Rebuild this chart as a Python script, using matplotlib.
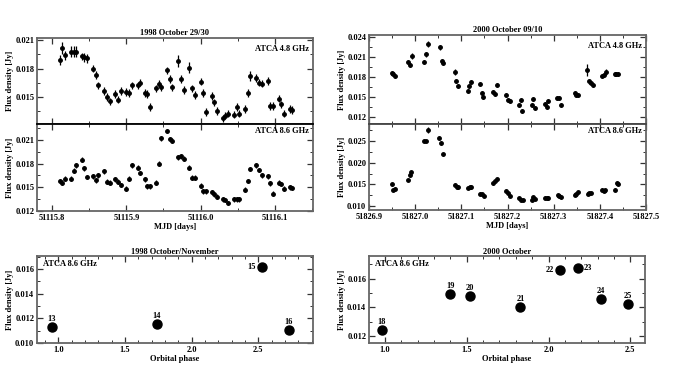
import numpy as np
import matplotlib
matplotlib.use('Agg')
import matplotlib.pyplot as plt
from matplotlib.ticker import MultipleLocator, FormatStrFormatter

plt.rcParams['font.family'] = ['Liberation Serif', 'DejaVu Serif']
plt.rcParams['font.weight'] = 'bold'
plt.rcParams['font.size'] = 6

# 1998 October 29/30 light curves (MJD)
mjd_98 = [51115.8103, 51115.8139, 51115.8174, 51115.8255, 51115.8291, 51115.8326,
          51115.8402, 51115.8434, 51115.8474, 51115.8559, 51115.8590, 51115.8626,
          51115.8706, 51115.8738, 51115.8778, 51115.8854, 51115.8890, 51115.8925,
          51115.9001, 51115.9037, 51115.9077, 51115.9153, 51115.9185, 51115.9247,
          51115.9283, 51115.9319, 51115.9395, 51115.9435, 51115.9471, 51115.9547,
          51115.9587, 51115.9618, 51115.9699, 51115.9734, 51115.9770, 51115.9846,
          51115.9886, 51115.9922, 51115.9998, 51116.0038, 51116.0070, 51116.0150,
          51116.0182, 51116.0222, 51116.0302, 51116.0333, 51116.0369, 51116.0450,
          51116.0485, 51116.0521, 51116.0597, 51116.0633, 51116.0669, 51116.0749,
          51116.0785, 51116.0825, 51116.0901, 51116.0933, 51116.0973, 51116.1049,
          51116.1084, 51116.1120, 51116.1201, 51116.1228]
flux_98_48 = [0.0189, 0.0202, 0.0194, 0.0198, 0.0198, 0.0198, 0.0193, 0.0192, 0.0191,
              0.0180, 0.0173, 0.0162, 0.0156, 0.0150, 0.0145, 0.0153, 0.0147, 0.0156,
              0.0155, 0.0154, 0.0162, 0.0162, 0.0165, 0.0154, 0.0153, 0.0139, 0.0159,
              0.0164, 0.0160, 0.0178, 0.0169, 0.0160, 0.0188, 0.0169, 0.0157, 0.0181,
              0.0159, 0.0152, 0.0166, 0.0154, 0.0134, 0.0151, 0.0144, 0.0135, 0.0127,
              0.0130, 0.0132, 0.0131, 0.0139, 0.0132, 0.0137, 0.0154, 0.0172, 0.0170,
              0.0165, 0.0164, 0.0167, 0.0140, 0.0140, 0.0148, 0.0142, 0.0132, 0.0137,
              0.0136]
err_98_48 = [0.0005, 0.0006, 0.0005, 0.0006, 0.0006, 0.0006, 0.0004, 0.0005, 0.0005,
             0.0004, 0.0004, 0.0004, 0.0004, 0.0004, 0.0004, 0.0004, 0.0004, 0.0004,
             0.0004, 0.0004, 0.0004, 0.0004, 0.0004, 0.0004, 0.0004, 0.0004, 0.0004,
             0.0004, 0.0004, 0.0004, 0.0004, 0.0004, 0.0006, 0.0004, 0.0004, 0.0006,
             0.0004, 0.0004, 0.0004, 0.0004, 0.0004, 0.0004, 0.0004, 0.0004, 0.0004,
             0.0004, 0.0004, 0.0004, 0.0004, 0.0004, 0.0004, 0.0004, 0.0005, 0.0004,
             0.0004, 0.0004, 0.0004, 0.0004, 0.0004, 0.0004, 0.0004, 0.0004, 0.0004,
             0.0004]
flux_98_86 = [0.0158, 0.0156, 0.0161, 0.0161, 0.0171, 0.0178, 0.0185, 0.0174, 0.0163,
              0.0164, 0.0159, 0.0165, 0.0170, 0.0157, 0.0156, 0.0160, 0.0157, 0.0153,
              0.0148, 0.0161, 0.0178, 0.0175, 0.0168, 0.0160, 0.0151, 0.0151, 0.0156,
              0.0180, 0.0212, 0.0221, 0.0211, 0.0209, 0.0188, 0.0189, 0.0186, 0.0175,
              0.0162, 0.0162, 0.0152, 0.0145, 0.0145, 0.0144, 0.0141, 0.0138, 0.0135,
              0.0134, 0.0130, 0.0135, 0.0135, 0.0135, 0.0147, 0.0158, 0.0173, 0.0178,
              0.0172, 0.0165, 0.0164, 0.0155, 0.0142, 0.0156, 0.0154, 0.0148, 0.0150,
              0.0149]
err_98_86 = [0.0003] * 64

# 2000 October 09/10 light curves (MJD)
mjd_00_48 = [51826.9492, 51826.9528, 51826.9571, 51826.9846, 51826.9889, 51826.9926,
             51827.0200, 51827.0244, 51827.0280, 51827.0533, 51827.0576, 51827.0612,
             51827.0866, 51827.0894, 51827.0931, 51827.1148, 51827.1176, 51827.1205,
             51827.1415, 51827.1444, 51827.1480, 51827.1690, 51827.1726, 51827.1762,
             51827.1972, 51827.2008, 51827.2044, 51827.2254, 51827.2283, 51827.2319,
             51827.2521, 51827.2557, 51827.2594, 51827.2803, 51827.2847, 51827.2883,
             51827.3078, 51827.3114, 51827.3150, 51827.3454, 51827.3490, 51827.3526,
             51827.3722, 51827.3772, 51827.3808, 51827.3845, 51827.4054, 51827.4090,
             51827.4127, 51827.4322, 51827.4358, 51827.4394]
flux_00_48 = [0.01855, 0.01835, 0.01815, 0.0202, 0.0198, 0.0211, 0.0202, 0.02135, 0.0229,
              0.0224, 0.02035, 0.0200, 0.0187, 0.01735, 0.0166, 0.0159, 0.01655, 0.01715,
              0.0169, 0.01555, 0.0150, 0.01565, 0.01535, 0.0167, 0.0153, 0.01455, 0.0143,
              0.01375, 0.01455, 0.01285, 0.01375, 0.0146, 0.01325, 0.01395, 0.01345, 0.0144,
              0.01485, 0.01475, 0.01375, 0.0156, 0.0153, 0.0152, 0.01905, 0.0173, 0.0171,
              0.0168, 0.01805, 0.0182, 0.0187, 0.01835, 0.01845, 0.01835]
err_00_48 = [0.0003, 0.0003, 0.0003, 0.0003, 0.0003, 0.0004, 0.0003, 0.0004, 0.0005,
             0.0004, 0.0003, 0.0003, 0.0004, 0.0003, 0.0003, 0.0003, 0.0003, 0.0003,
             0.0003, 0.0003, 0.0003, 0.0003, 0.0003, 0.0003, 0.0003, 0.0003, 0.0003,
             0.0003, 0.0003, 0.0003, 0.0003, 0.0003, 0.0003, 0.0003, 0.0003, 0.0003,
             0.0003, 0.0003, 0.0003, 0.0003, 0.0003, 0.0003, 0.0009, 0.0004, 0.0003,
             0.0003, 0.0003, 0.0003, 0.0004, 0.0003, 0.0003, 0.0003]
mjd_00_86 = [51826.9492, 51826.9528, 51826.9564, 51826.9846, 51826.9882, 51826.9918,
             51827.0200, 51827.0236, 51827.0273, 51827.0526, 51827.0569, 51827.0605,
             51827.0866, 51827.0902, 51827.0938, 51827.1155, 51827.1191, 51827.1220,
             51827.1415, 51827.1451, 51827.1487, 51827.1690, 51827.1726, 51827.1762,
             51827.1972, 51827.2008, 51827.2044, 51827.2254, 51827.2290, 51827.2326,
             51827.2521, 51827.2557, 51827.2594, 51827.2811, 51827.2847, 51827.2883,
             51827.3085, 51827.3121, 51827.3158, 51827.3454, 51827.3490, 51827.3526,
             51827.3736, 51827.3772, 51827.3808, 51827.4054, 51827.4090, 51827.4119,
             51827.4329, 51827.4365, 51827.4401]
flux_00_86 = [0.0150, 0.01369, 0.0140, 0.0160, 0.01708, 0.01785, 0.0251, 0.0250, 0.02754,
              0.02569, 0.02454, 0.02192, 0.01492, 0.01438, 0.01431, 0.01415, 0.01431, 0.01431,
              0.01285, 0.01269, 0.01238, 0.01523, 0.01569, 0.01615, 0.01354, 0.01292, 0.01231,
              0.01177, 0.01146, 0.01138, 0.01146, 0.01208, 0.01169, 0.01192, 0.01185, 0.01177,
              0.01246, 0.01223, 0.0120, 0.01254, 0.01285, 0.01315, 0.01285, 0.0130, 0.0130,
              0.01377, 0.01346, 0.01362, 0.01377, 0.01538, 0.0150]
err_00_86 = [0.0003] * 8 + [0.0006] + [0.0004] * 3 + [0.0003] * 39

# orbital phase panels
phase_98 = [0.95, 1.737, 2.525, 2.73]
flux_ph_98 = [0.0113, 0.01153, 0.01614, 0.01105]
lab_98 = ['13', '14', '15', '16']
phase_00 = [0.98, 1.398, 1.52, 1.828, 2.07, 2.18, 2.32, 2.484]
flux_ph_00 = [0.0124, 0.01495, 0.01481, 0.0140, 0.0166, 0.01673, 0.0146, 0.01424]
lab_00 = ['18', '19', '20', '21', '22', '23', '24', '25']

W, H = 683, 381
fig = plt.figure(figsize=(W / 100, H / 100), dpi=100)


def box(x0, y0, x1, y1):
    return [x0 / W, 1 - y1 / H, (x1 - x0) / W, (y1 - y0) / H]


def style(ax, xmaj, xmin, ymaj, ymin, yfmt='%.3f', xfmt='%.1f'):
    ax.xaxis.set_major_locator(MultipleLocator(xmaj))
    ax.xaxis.set_minor_locator(MultipleLocator(xmin))
    ax.yaxis.set_major_locator(MultipleLocator(ymaj))
    ax.yaxis.set_minor_locator(MultipleLocator(ymin))
    ax.yaxis.set_major_formatter(FormatStrFormatter(yfmt))
    ax.xaxis.set_major_formatter(FormatStrFormatter(xfmt))
    ax.tick_params(which='both', direction='in', top=True, right=True,
                   labelsize=6, pad=2, color='#333333')
    ax.tick_params(which='major', length=4, width=0.9)
    ax.tick_params(which='minor', length=2, width=0.7)
    for s in ax.spines.values():
        s.set_color('#666666')
        s.set_linewidth(1.3)


def curve(ax, x, y, e):
    ax.errorbar(x, y, yerr=e, fmt='o', ms=2.5, color='black', ecolor='black',
                elinewidth=0.9, capsize=0)


lab_kw = dict(fontsize=6, fontweight='bold')

# left column: 1998 October 29/30
ax1 = fig.add_axes(box(37, 38, 313, 124))
ax2 = fig.add_axes(box(37, 124, 313, 211), sharex=ax1)
curve(ax1, mjd_98, flux_98_48, err_98_48)
curve(ax2, mjd_98, flux_98_86, err_98_86)
ax1.set_xlim(51115.78, 51116.151)
ax1.set_ylim(0.0121, 0.02125)
ax2.set_ylim(0.012, 0.0230)
style(ax1, 0.1, 0.05, 0.003, 0.0015)
style(ax2, 0.1, 0.05, 0.003, 0.0015)
ax1.tick_params(labelbottom=False)
ax1.set_yticks([0.015, 0.018, 0.021])
ax2.set_yticks([0.012, 0.015, 0.018, 0.021])
ax1.yaxis.set_minor_locator(MultipleLocator(0.0015))
ax2.yaxis.set_minor_locator(MultipleLocator(0.0015))
ax2.spines['top'].set_color('black')
ax1.set_title('1998 October 29/30', pad=2, **lab_kw)
ax1.set_ylabel('Flux density [Jy]', labelpad=1, **lab_kw)
ax2.set_ylabel('Flux density [Jy]', labelpad=1, **lab_kw)
ax2.set_xlabel('MJD [days]', labelpad=1, **lab_kw)
ax1.text(0.985, 0.92, 'ATCA 4.8 GHz', transform=ax1.transAxes, ha='right', va='top', **lab_kw)
ax2.text(0.985, 0.97, 'ATCA 8.6 GHz', transform=ax2.transAxes, ha='right', va='top', **lab_kw)

# right column: 2000 October 09/10
ax3 = fig.add_axes(box(369, 35, 646, 124))
ax4 = fig.add_axes(box(369, 124, 646, 210), sharex=ax3)
curve(ax3, mjd_00_48, flux_00_48, err_00_48)
curve(ax4, mjd_00_86, flux_00_86, err_00_86)
ax3.set_xlim(51826.9, 51827.5)
ax3.set_ylim(0.0109, 0.02425)
ax4.set_ylim(0.0091, 0.0289)
style(ax3, 0.1, 0.05, 0.003, 0.0015)
style(ax4, 0.1, 0.05, 0.005, 0.0025)
ax3.tick_params(labelbottom=False)
ax4.spines['top'].set_color('#444444')
ax3.set_title('2000 October 09/10', pad=2, **lab_kw)
ax3.set_ylabel('Flux density [Jy]', labelpad=1, **lab_kw)
ax4.set_ylabel('Flux density [Jy]', labelpad=1, **lab_kw)
ax4.set_xlabel('MJD [days]', labelpad=1, **lab_kw)
ax3.text(0.985, 0.92, 'ATCA 4.8 GHz', transform=ax3.transAxes, ha='right', va='top', **lab_kw)
ax4.text(0.985, 0.97, 'ATCA 8.6 GHz', transform=ax4.transAxes, ha='right', va='top', **lab_kw)

# bottom row: orbital phase
ax5 = fig.add_axes(box(37, 256, 313, 343))
ax5.plot(phase_98, flux_ph_98, 'o', color='black', ms=6.5)
ax5.set_xlim(0.84, 2.91)
ax5.set_ylim(0.010, 0.01705)
style(ax5, 0.5, 0.1, 0.002, 0.001)
for x, y, t in zip(phase_98, flux_ph_98, lab_98):
    if t == '15':
        ax5.annotate(t, (x, y), xytext=(-4, 0), textcoords='offset points',
                     ha='right', va='center', **lab_kw)
    else:
        ax5.annotate(t, (x, y), xytext=(0, 3), textcoords='offset points',
                     ha='center', va='bottom', **lab_kw)
ax5.set_title('1998 October/November', pad=1, **lab_kw)
ax5.set_ylabel('Flux density [Jy]', labelpad=1, **lab_kw)
ax5.set_xlabel('Orbital phase', labelpad=1, **lab_kw)
ax5.text(0.02, 0.95, 'ATCA 8.6 GHz', transform=ax5.transAxes, ha='left', va='top', **lab_kw)

ax6 = fig.add_axes(box(369, 256, 645, 343))
ax6.plot(phase_00, flux_ph_00, 'o', color='black', ms=6.5)
ax6.set_xlim(0.902, 2.59)
ax6.set_ylim(0.01151, 0.01758)
style(ax6, 0.5, 0.1, 0.002, 0.001)
for x, y, t in zip(phase_00, flux_ph_00, lab_00):
    if t == '22':
        ax6.annotate(t, (x, y), xytext=(-4, 0), textcoords='offset points',
                     ha='right', va='center', **lab_kw)
    elif t == '23':
        ax6.annotate(t, (x, y), xytext=(4, 0), textcoords='offset points',
                     ha='left', va='center', **lab_kw)
    else:
        ax6.annotate(t, (x, y), xytext=(0, 3), textcoords='offset points',
                     ha='center', va='bottom', **lab_kw)
ax6.set_title('2000 October', pad=1, **lab_kw)
ax6.set_ylabel('Flux density [Jy]', labelpad=1, **lab_kw)
ax6.set_xlabel('Orbital phase', labelpad=1, **lab_kw)
ax6.text(0.02, 0.95, 'ATCA 8.6 GHz', transform=ax6.transAxes, ha='left', va='top', **lab_kw)

fig.savefig('out.png', dpi=100)
